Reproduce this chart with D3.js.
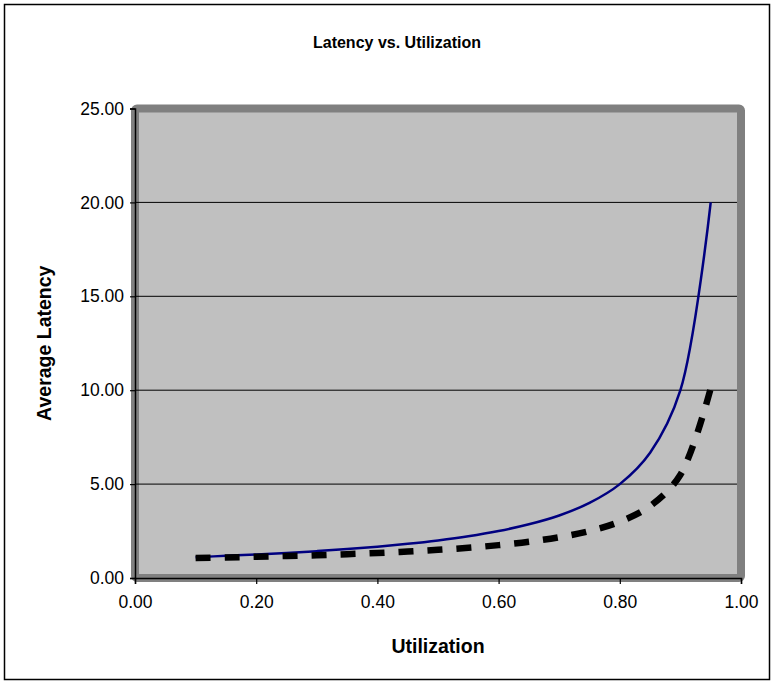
<!DOCTYPE html>
<html>
<head>
<meta charset="utf-8">
<script src="https://cdn.jsdelivr.net/npm/d3@7"></script>
<style>
	body { margin: 0; background: #fff; }
	text { font-family: Arial, "Liberation Sans", sans-serif; }
</style>
</head>
<body>
<svg id="chart" width="774" height="683"></svg>
<script>
// utilization points and the two latency series
var utilization = [0.10, 0.15, 0.20, 0.25, 0.30, 0.35, 0.40, 0.45, 0.50, 0.55, 0.60, 0.65, 0.70, 0.75, 0.80, 0.85, 0.90, 0.95];
var latencySolid = [1.11, 1.18, 1.25, 1.33, 1.43, 1.54, 1.67, 1.82, 2.00, 2.22, 2.50, 2.86, 3.33, 4.00, 5.00, 6.67, 10.00, 20.00];
var latencyDashed = [1.06, 1.09, 1.13, 1.17, 1.21, 1.27, 1.33, 1.41, 1.50, 1.61, 1.75, 1.93, 2.17, 2.50, 3.00, 3.83, 5.50, 10.10];
var xTicks = [0, 0.2, 0.4, 0.6, 0.8, 1.0];
var yTicks = [0, 5, 10, 15, 20, 25];

var svg = d3.select("#chart");
var plotLeft = 135, plotRight = 741, plotTop = 108.5, plotBottom = 578;

// outer frame
svg.append("rect")
	.attr("x", 4.5).attr("y", 4.5)
	.attr("width", 765).attr("height", 675)
	.attr("fill", "#fff")
	.attr("stroke", "#000")
	.attr("stroke-width", 1.5);

var x = d3.scaleLinear().domain([0, 1]).range([plotLeft, plotRight]);
var y = d3.scaleLinear().domain([0, 25]).range([plotBottom, plotTop]);

// plot area with its thick grey border
svg.append("rect")
	.attr("x", plotLeft).attr("y", plotTop)
	.attr("width", plotRight - plotLeft).attr("height", plotBottom - plotTop)
	.attr("fill", "#C0C0C0")
	.attr("stroke", "#808080")
	.attr("stroke-width", 8)
	.attr("rx", 2);

// gridlines
svg.selectAll(".grid").data(yTicks.slice(1, -1))
	.enter()
	.append("line")
	.attr("class", "grid")
	.attr("x1", plotLeft).attr("x2", plotRight - 4)
	.attr("y1", function(d){ return y(d); })
	.attr("y2", function(d){ return y(d); })
	.attr("stroke", "#000")
	.attr("stroke-width", 1);

// axes
var yAxis = d3.axisLeft(y).tickValues(yTicks).tickSize(5).tickFormat(d3.format(".2f"));
var xAxis = d3.axisBottom(x).tickValues(xTicks).tickSize(6).tickFormat(d3.format(".2f"));

var gy = svg.append("g").attr("transform", "translate(" + plotLeft + ",0)").call(yAxis);
var gx = svg.append("g").attr("transform", "translate(0," + plotBottom + ")").call(xAxis);

[gy, gx].forEach(function(g){
	g.select(".domain").attr("stroke", "#000").attr("stroke-width", 1.5);
	g.selectAll(".tick line").attr("stroke", "#000").attr("stroke-width", 1.2);
	g.selectAll(".tick text")
		.attr("fill", "#000")
		.style("font-size", "17.5px")
		.style("font-family", "Arial, 'Liberation Sans', sans-serif");
});
gy.selectAll(".tick text").attr("x", -11);
gx.selectAll(".tick text").attr("y", 18);

// series (Excel-style smoothed lines)
var line = d3.line()
	.x(function(d, i){ return x(utilization[i]); })
	.y(function(d){ return y(d); })
	.curve(d3.curveCatmullRom.alpha(0.5));

svg.append("path")
	.datum(latencySolid)
	.attr("d", line)
	.attr("fill", "none")
	.attr("stroke", "#000080")
	.attr("stroke-width", 2.5);

svg.append("path")
	.datum(latencyDashed)
	.attr("d", line)
	.attr("fill", "none")
	.attr("stroke", "#000")
	.attr("stroke-width", 6.5)
	.attr("stroke-dasharray", "15,14");

// titles
svg.append("text")
	.attr("x", 397).attr("y", 48)
	.attr("text-anchor", "middle")
	.style("font-size", "16px")
	.style("font-weight", "bold")
	.text("Latency vs. Utilization");

svg.append("text")
	.attr("x", (plotLeft + plotRight) / 2).attr("y", 653)
	.attr("text-anchor", "middle")
	.style("font-size", "19.5px")
	.style("font-weight", "bold")
	.text("Utilization");

svg.append("text")
	.attr("transform", "translate(51," + (plotTop + plotBottom) / 2 + ") rotate(-90)")
	.attr("text-anchor", "middle")
	.style("font-size", "19.5px")
	.style("font-weight", "bold")
	.text("Average Latency");
</script>
</body>
</html>
